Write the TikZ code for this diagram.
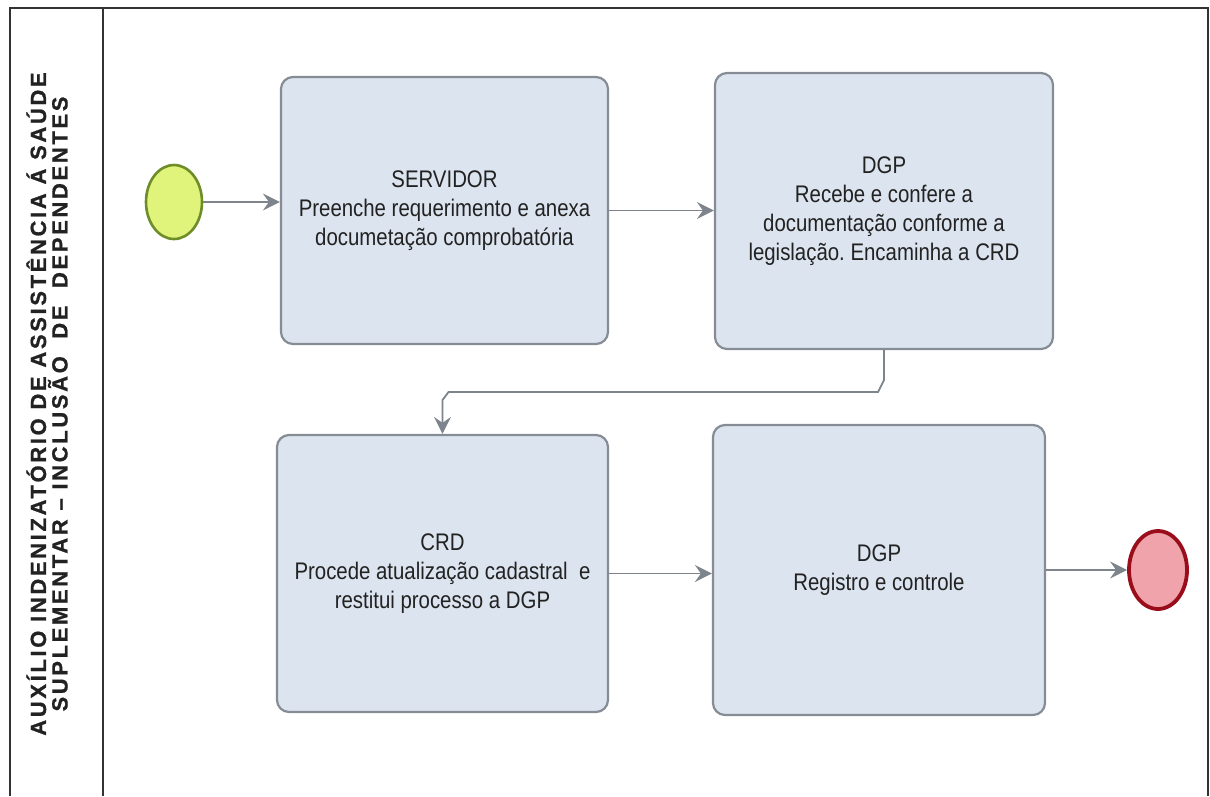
\documentclass[tikz,border=0pt]{standalone}
\usepackage{fontspec}
\setmainfont{Liberation Sans}
\newfontfamily\boxfont[FakeStretch=0.85]{Liberation Sans}
\newfontfamily\titlefont[LetterSpace=12,FakeBold=0.8]{Liberation Sans Bold}
\usetikzlibrary{arrows.meta,shapes.geometric}
\definecolor{boxfill}{HTML}{DCE4EF}
\definecolor{boxline}{HTML}{868C94}
\definecolor{flowc}{HTML}{7E848C}
\definecolor{startfill}{HTML}{E0F47C}
\definecolor{startline}{HTML}{6E8C28}
\definecolor{endfill}{HTML}{F0A3AA}
\definecolor{endline}{HTML}{9A0E1C}
\definecolor{txt}{HTML}{222222}
\definecolor{frame}{HTML}{333333}
\tikzset{
  taskbox/.style={draw=boxline, fill=boxfill, line width=2.2pt, rounded corners=12pt,
    align=center, text=txt, font=\boxfont\fontsize{24}{29}\selectfont, inner sep=0pt},
  flow/.style={draw=flowc, line width=1.8pt, -{Stealth[length=17pt,width=17pt,inset=6pt]}},
  startev/.style={ellipse, draw=startline, fill=startfill, line width=2.6pt, minimum width=56pt, minimum height=74pt, inner sep=0pt},
  endev/.style={ellipse, draw=endline, fill=endfill, line width=3.8pt, minimum width=58pt, minimum height=78pt, inner sep=0pt},
  frameline/.style={draw=frame, line width=2pt}
}
\frenchspacing
\begin{document}
\begin{tikzpicture}[x=1pt,y=-1pt]
\useasboundingbox (0,0) rectangle (1210,796);
% frame
\draw[frameline] (10,796) -- (10,8) -- (1208,8) -- (1208,796);
\draw[frameline] (103,8) -- (103,796);
% title
\node[rotate=90, align=center, text=txt, font=\titlefont\fontsize{22}{21.5}\selectfont] (title) at (47,404)
  {AUXÍLIO INDENIZATÓRIO DE ASSISTÊNCIA Á SAÚDE\\SUPLEMENTAR – INCLUSÃO\ \ DE\ \ DEPENDENTES};
% events
\node[startev] (s) at (174,202) {};
\node[endev] (e) at (1158,570) {};
% tasks
\node[taskbox, minimum width=327pt, minimum height=267pt] (b1) at (444.5,210.5)
  {SERVIDOR\\Preenche requerimento e anexa\\documetação comprobatória};
\node[taskbox, minimum width=338pt, minimum height=276pt] (b2) at (884,211)
  {DGP\\Recebe e confere a\\documentação conforme a\\legislação. Encaminha a CRD};
\node[taskbox, minimum width=331pt, minimum height=277pt] (b3) at (442.5,573.5)
  {CRD\\Procede atualização cadastral\ \ e\\restitui processo a DGP};
\node[taskbox, minimum width=332pt, minimum height=290pt] (b4) at (879,570)
  {DGP\\Registro e controle};
\coordinate (mid) at (660,392);
% connectors
\draw[flow] (s.east) -- (s.east -| b1.west);
\draw[flow] (b1.east) -- (b1.east -| b2.west);
\draw[flow] (b2.south) -- ([yshift=12pt]b2.south |- mid) -- ([xshift=-6pt]b2.south |- mid)
  -- ([xshift=6pt]b3.north |- mid) -- ([yshift=-8pt]b3.north |- mid) -- (b3.north);
\draw[flow] (b3.east) -- (b3.east -| b4.west);
\draw[flow] (b4.east) -- (b4.east -| e.west);
\end{tikzpicture}
\end{document}
